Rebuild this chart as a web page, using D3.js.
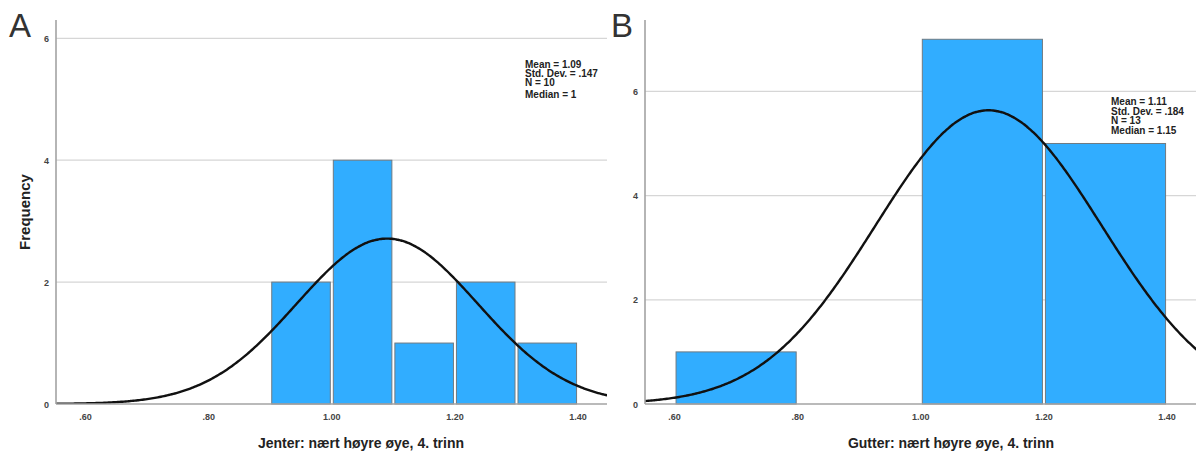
<!DOCTYPE html>
<html>
<head>
<meta charset="utf-8">
<script src="https://cdn.jsdelivr.net/npm/d3@7"></script>
<style>
  html, body { margin: 0; padding: 0; background: #fff; }
  svg { display: block; font-family: "Liberation Sans", Arial, sans-serif; }
</style>
</head>
<body>
<svg id="chart" width="1200" height="454"></svg>
<script>
// Histogram data: bin edges and counts per panel
const edgesA = [0.9, 1.0, 1.1, 1.2, 1.3, 1.4];
const countsA = [2, 4, 1, 2, 1];
const edgesB = [0.6, 0.8, 1.0, 1.2, 1.4];
const countsB = [1, 0, 7, 5];

// Summary statistics used for the fitted normal curve and the text block
const statsA = { mean: 1.09, sd: 0.147, n: 10, median: 1 };
const statsB = { mean: 1.11, sd: 0.184, n: 13, median: 1.15 };

// Axis ticks
const xTicks = [0.6, 0.8, 1.0, 1.2, 1.4];
const xTickLabels = [".60", ".80", "1.00", "1.20", "1.40"];
const yTicks = [0, 2, 4, 6];

const titles = ["Jenter: nært høyre øye, 4. trinn", "Gutter: nært høyre øye, 4. trinn"];
const panelLetters = ["A", "B"];

const svg = d3.select("#chart");

const panels = [
  { edges: edgesA, counts: countsA, stats: statsA, title: titles[0], letter: panelLetters[0],
    left: 56, right: 607, top: 20, bottom: 404, yMax: 6.3, letterX: 9, titleX: 361,
    statsX: 525, statsY: [68, 77, 86, 98], gap: "" },
  { edges: edgesB, counts: countsB, stats: statsB, title: titles[1], letter: panelLetters[1],
    left: 645, right: 1196, top: 20, bottom: 404, yMax: 7.37, letterX: 611, titleX: 951,
    statsX: 1111, statsY: [105, 115, 124, 134], gap: " " }
];

const fmt3 = v => d3.format(".3f")(v).replace(/^0/, "");
const fmt2 = v => d3.format(".2f")(v);

panels.forEach((p, pi) => {
  const g = svg.append("g");
  const x = d3.scaleLinear().domain([0.552, 1.447]).range([p.left, p.right]);
  const y = d3.scaleLinear().domain([0, p.yMax]).range([p.bottom, p.top]);

  const clipId = "clip" + pi;
  svg.append("clipPath").attr("id", clipId)
    .append("rect").attr("x", p.left).attr("y", p.top)
    .attr("width", p.right - p.left).attr("height", p.bottom - p.top);

  // gridlines
  g.selectAll("line.grid").data(yTicks.filter(t => t > 0)).enter().append("line")
    .attr("x1", p.left).attr("x2", p.right)
    .attr("y1", d => y(d)).attr("y2", d => y(d))
    .attr("stroke", "#d6d6d6").attr("stroke-width", 1.2);

  // bars
  const bins = p.counts.map((c, i) => ({ x0: p.edges[i], x1: p.edges[i + 1], c }))
    .filter(b => b.c > 0);
  g.selectAll("rect.bar").data(bins).enter().append("rect")
    .attr("x", d => x(d.x0) + 1.5)
    .attr("width", d => x(d.x1) - x(d.x0) - 3)
    .attr("y", d => y(d.c))
    .attr("height", d => y(0) - y(d.c))
    .attr("fill", "#31adff")
    .attr("stroke", "#6f7a82").attr("stroke-width", 1);

  // fitted normal curve: N * binWidth * pdf
  const bw = p.edges[1] - p.edges[0];
  const s = p.stats;
  const pdf = v => Math.exp(-0.5 * Math.pow((v - s.mean) / s.sd, 2)) / (s.sd * Math.sqrt(2 * Math.PI));
  const xs = d3.range(0.55, 1.4501, 0.0025);
  const line = d3.line().x(v => x(v)).y(v => y(s.n * bw * pdf(v))).curve(d3.curveBasis);
  g.append("path").datum(xs)
    .attr("clip-path", `url(#${clipId})`)
    .attr("d", line)
    .attr("fill", "none").attr("stroke", "#111").attr("stroke-width", 2.4);

  // axes lines
  g.append("line").attr("x1", p.left).attr("x2", p.left).attr("y1", p.top).attr("y2", p.bottom)
    .attr("stroke", "#a3a3a3").attr("stroke-width", 1.6);
  g.append("line").attr("x1", p.left).attr("x2", p.right).attr("y1", p.bottom).attr("y2", p.bottom)
    .attr("stroke", "#a3a3a3").attr("stroke-width", 1.6);

  // y tick labels
  g.selectAll("text.yt").data(yTicks).enter().append("text")
    .attr("x", p.left - 7).attr("y", d => y(d) + 3.5)
    .attr("text-anchor", "end")
    .attr("font-size", 9).attr("font-weight", "bold").attr("fill", "#444")
    .text(d => d);

  // x tick labels
  g.selectAll("text.xt").data(xTicks).enter().append("text")
    .attr("x", d => x(d)).attr("y", p.bottom + 16)
    .attr("text-anchor", "middle")
    .attr("font-size", 9).attr("font-weight", "bold").attr("fill", "#444")
    .text((d, i) => xTickLabels[i]);

  // x axis title
  g.append("text").attr("x", p.titleX).attr("y", 448)
    .attr("text-anchor", "middle").attr("font-size", 14).attr("font-weight", "bold")
    .attr("fill", "#222").text(p.title);

  // panel letter
  g.append("text").attr("x", p.letterX).attr("y", 37)
    .attr("font-size", 33).attr("fill", "#333").text(p.letter);

  // statistics block
  const lines = [
    `Mean = ${p.gap}${fmt2(s.mean)}`,
    `Std. Dev. = ${p.gap}${fmt3(s.sd)}`,
    `N = ${s.n}`,
    `Median = ${Number.isInteger(s.median) ? s.median : fmt2(s.median)}`
  ];
  g.selectAll("text.st").data(lines).enter().append("text")
    .attr("x", p.statsX).attr("y", (d, i) => p.statsY[i])
    .attr("font-size", 10).attr("font-weight", "bold").attr("fill", "#222")
    .text(d => d);
});

// y axis title (left panel only)
svg.append("text")
  .attr("transform", "translate(30,212) rotate(-90)")
  .attr("text-anchor", "middle").attr("font-size", 15).attr("font-weight", "bold")
  .attr("fill", "#222").text("Frequency");
</script>
</body>
</html>
